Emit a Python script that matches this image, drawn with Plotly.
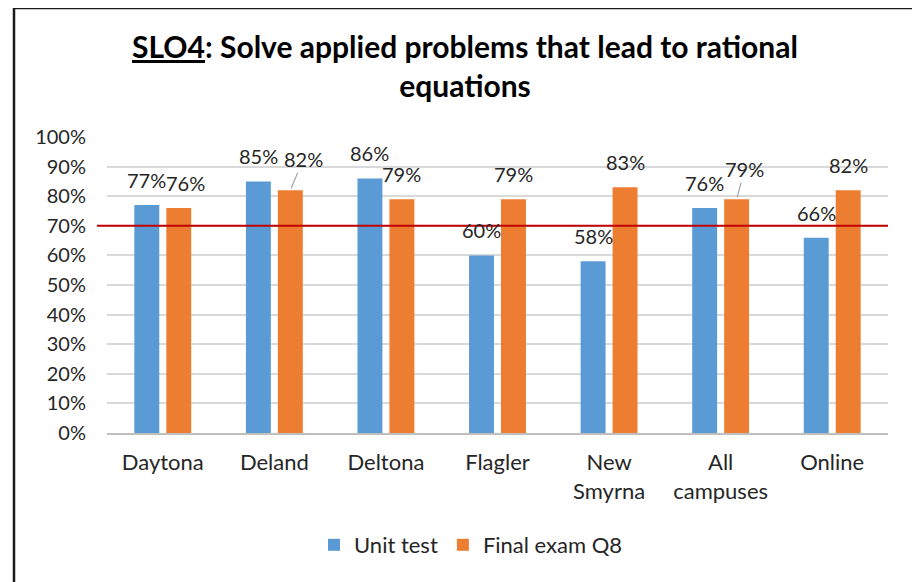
import plotly.graph_objects as go

categories = ["Daytona", "Deland", "Deltona", "Flagler", "New<br>Smyrna", "All<br>campuses", "Online"]
unit_test = [77, 85, 86, 60, 58, 76, 66]
final_exam = [76, 82, 79, 79, 83, 79, 82]
y_ticks = [0, 10, 20, 30, 40, 50, 60, 70, 80, 90, 100]
benchmark = 70

BLUE = "#5B9BD5"
ORANGE = "#ED7D31"
TXT = "#262626"
FONT = "Lato"

# page body has an 8px default margin; work in window pixels and convert
OFF = 8
W, H = 920 - OFF, 582 - OFF
PL, PR, PT, PB = 107, 888, 137, 433          # plot area in window pixels
ML, MR, MT, MB = PL - OFF, W - (PR - OFF), PT - OFF, H - (PB - OFF)
PW, PH = W - ML - MR, H - MT - MB

def px_x(p):
    return (p - OFF - ML) / PW

def px_y(p):
    return (H - MB - (p - OFF)) / PH

fig = go.Figure()
fig.add_trace(go.Bar(name="Unit test", x=categories, y=unit_test, marker=dict(color=BLUE, line=dict(width=0))))
fig.add_trace(go.Bar(name="Final exam Q8", x=categories, y=final_exam, marker=dict(color=ORANGE, line=dict(width=0))))

# label offsets (pixels) relative to standard position; leader flag
blue_off = [(0, 0, False)] * 7
orange_off = [(7, 0, False), (13, 6, True), (0, 0, False), (0, 0, False),
              (0, 0, False), (8, 5, True), (0, 0, False)]

annotations = []
for series, off, shift in ((unit_test, blue_off, -16), (final_exam, orange_off, 16)):
    for c, v, (dx, dy, lead) in zip(categories, series, off):
        annotations.append(dict(
            x=c, y=v, xref="x", yref="y", xshift=shift,
            text=f"{v}%", showarrow=True,
            ax=dx, ay=-(25 + dy),
            arrowhead=0, arrowwidth=1.2, standoff=2,
            arrowcolor="#A6A6A6" if lead else "rgba(0,0,0,0)",
            font=dict(family=FONT, size=20, color=TXT),
            xanchor="center", yanchor="middle",
        ))

shapes = [
    dict(type="line", xref="paper", yref="y", x0=px_x(97), x1=1, y0=benchmark, y1=benchmark,
         line=dict(color="#C00000", width=2)),
    dict(type="rect", xref="paper", yref="paper", x0=px_x(14), x1=px_x(918), y0=px_y(8), y1=px_y(600),
         line=dict(color="#1a1a1a", width=2.5), fillcolor="rgba(0,0,0,0)", layer="above"),
]

fig.update_layout(
    width=W, height=H,
    margin=dict(l=ML, r=MR, t=MT, b=MB, autoexpand=False),
    paper_bgcolor="white", plot_bgcolor="white",
    barmode="group", bargap=0.427, bargroupgap=0.22,
    font=dict(family=FONT, size=20, color=TXT),
    title=dict(text="<b><u>SLO4</u>: Solve applied problems that lead to rational<br>equations</b>",
               x=(465 - OFF) / W, xref="container", xanchor="center",
               y=1 - 50 / H, yref="container", yanchor="top",
               font=dict(family=FONT, size=30, color="#000000")),
    xaxis=dict(showline=True, linecolor="#BFBFBF", linewidth=1.5, ticks="",
               tickfont=dict(family=FONT, size=22, color=TXT), ticklabelstandoff=9),
    yaxis=dict(range=[0, 100], tickvals=y_ticks, ticktext=[f"{t}%" for t in y_ticks],
               showgrid=True, gridcolor="#D9D9D9", gridwidth=1.5, zeroline=False,
               tickfont=dict(family=FONT, size=20, color=TXT), ticks="", ticklabelstandoff=20),
    legend=dict(orientation="h", x=px_x(471), xanchor="center", y=px_y(545), yanchor="middle",
                font=dict(family=FONT, size=22, color=TXT), itemsizing="constant", itemwidth=30),
    annotations=annotations,
    shapes=shapes,
    showlegend=True,
)

fig.write_html("out.html")
